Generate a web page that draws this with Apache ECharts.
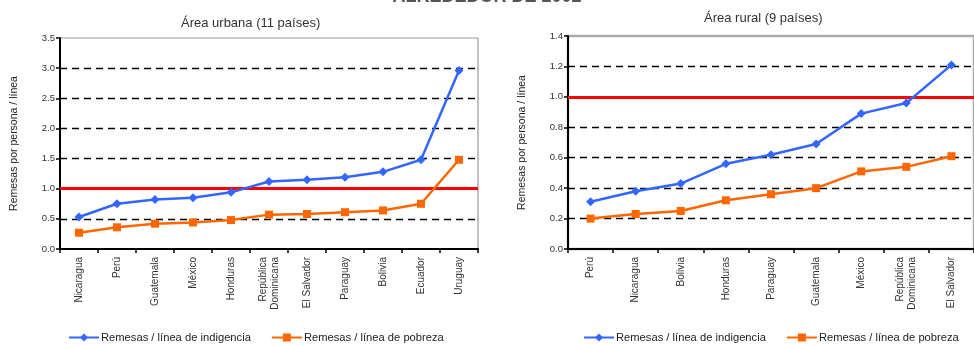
<!DOCTYPE html>
<html>
<head>
<meta charset="utf-8">
<script src="https://cdn.jsdelivr.net/npm/echarts@6/dist/echarts.min.js"></script>
<style>
html,body{margin:0;padding:0;background:#fff;}
#c{width:974px;height:345px;}
</style>
</head>
<body>
<div id="c"></div>
<script>
// ---- Data ----
const urbanCategories = ['Nicaragua','Perú','Guatemala','México','Honduras','República\nDominicana','El Salvador','Paraguay','Bolivia','Ecuador','Uruguay'];
const urbanIndigencia = [0.53, 0.75, 0.82, 0.85, 0.94, 1.12, 1.15, 1.19, 1.28, 1.48, 2.96];
const urbanPobreza    = [0.27, 0.36, 0.42, 0.44, 0.48, 0.57, 0.58, 0.61, 0.64, 0.75, 1.48];

const ruralCategories = ['Perú','Nicaragua','Bolivia','Honduras','Paraguay','Guatemala','México','República\nDominicana','El Salvador'];
const ruralIndigencia = [0.31, 0.38, 0.43, 0.56, 0.62, 0.69, 0.89, 0.96, 1.21];
const ruralPobreza    = [0.20, 0.23, 0.25, 0.32, 0.36, 0.40, 0.51, 0.54, 0.61];

const seriesNames = ['Remesas / línea de indigencia', 'Remesas / línea de pobreza'];
const referenceLine = 1.0;

const BLUE = '#3366FF', ORANGE = '#FF6600', RED = '#FF0000';
const FONT = 'Liberation Sans, Arial, sans-serif';

function yAxis(gridIndex, max, interval) {
  return {
    type: 'value', gridIndex, min: 0, max, interval,
    name: 'Remesas por persona / línea',
    nameLocation: 'middle', nameGap: 40, nameRotate: 90,
    nameTextStyle: {fontSize: 10.5, color: '#222', fontFamily: FONT},
    axisLine: {show: true, lineStyle: {color: '#000', width: 2}},
    axisTick: {show: true, length: 4, lineStyle: {color: '#000', width: 1.5}},
    axisLabel: {fontSize: 9.5, color: '#333', margin: 5, fontFamily: FONT,
      formatter: v => v.toFixed(1)},
    splitLine: {show: true, showMaxLine: false, showMinLine: false,
      lineStyle: {color: '#000', width: 1.3, type: [7, 5]}}
  };
}
function xAxis(gridIndex, data) {
  return {
    type: 'category', gridIndex, data, boundaryGap: true,
    axisLine: {show: true, lineStyle: {color: '#000', width: 2}},
    axisTick: {show: true, length: 4, inside: false, lineStyle: {color: '#000', width: 1.5}},
    axisLabel: {rotate: 90, interval: 0, fontSize: 10, color: '#333', margin: 8, fontFamily: FONT, lineHeight: 12},
    splitLine: {show: false}
  };
}
function lineSeries(name, data, idx, color, symbol, size, withRef) {
  const s = {
    name, type: 'line', data, xAxisIndex: idx, yAxisIndex: idx,
    symbol, symbolSize: size, showSymbol: true,
    lineStyle: {color, width: 2.5},
    itemStyle: {color},
    z: 5, animation: false
  };
  if (withRef) {
    s.markLine = {
      silent: true, symbol: 'none', label: {show: false},
      lineStyle: {color: RED, width: 3, type: 'solid'},
      data: [{yAxis: referenceLine}], animation: false
    };
  }
  return s;
}

const legendCommon = {
  data: seriesNames, itemWidth: 30, itemHeight: 10, itemGap: 20,
  textStyle: {fontSize: 11.2, color: '#222', fontFamily: FONT, padding: [0, 0, 0, -3]}
};

const chart = echarts.init(document.getElementById('c'), null, {renderer: 'canvas'});
chart.setOption({
  animation: false,
  backgroundColor: '#fff',
  textStyle: {fontFamily: FONT},
  title: [
    {text: 'ALREDEDOR DE 2002', left: 'center', top: -17,
      textStyle: {fontSize: 18, fontWeight: 'bold', color: '#555', fontFamily: FONT}},
    {text: 'Área urbana (11 países)', left: 176, top: 12,
      textStyle: {fontSize: 13, fontWeight: 'normal', color: '#333', fontFamily: FONT}},
    {text: 'Área rural (9 países)', left: 699, top: 7,
      textStyle: {fontSize: 13, fontWeight: 'normal', color: '#333', fontFamily: FONT}}
  ],
  legend: [
    Object.assign({left: 63, top: 327}, legendCommon),
    Object.assign({left: 578, top: 327}, legendCommon)
  ],
  grid: [
    {left: 60, right: 496, top: 38, bottom: 96, show: true, borderColor: '#999', borderWidth: 1.2, backgroundColor: '#fff'},
    {left: 568, right: -12, top: 36, bottom: 96, show: true, borderColor: '#aaa', borderWidth: 2.5, backgroundColor: '#fff'}
  ],
  xAxis: [xAxis(0, urbanCategories), xAxis(1, ruralCategories)],
  yAxis: [yAxis(0, 3.5, 0.5), yAxis(1, 1.4, 0.2)],
  series: [
    lineSeries(seriesNames[0], urbanIndigencia, 0, BLUE, 'diamond', 9, true),
    lineSeries(seriesNames[1], urbanPobreza, 0, ORANGE, 'rect', 8, false),
    lineSeries(seriesNames[0], ruralIndigencia, 1, BLUE, 'diamond', 9, true),
    lineSeries(seriesNames[1], ruralPobreza, 1, ORANGE, 'rect', 8, false)
  ]
});
</script>
</body>
</html>
